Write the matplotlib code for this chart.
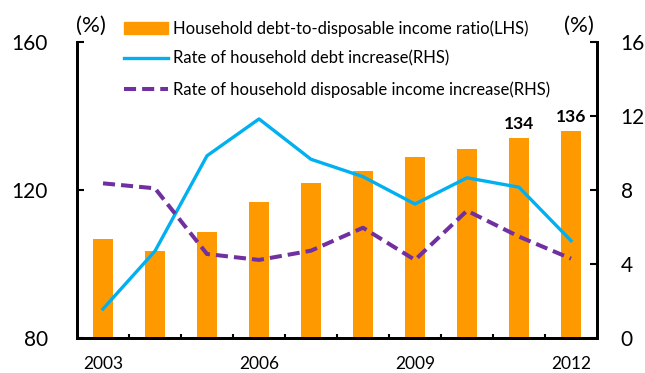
import numpy as np
import matplotlib.pyplot as plt
from matplotlib.patches import Patch
from matplotlib.lines import Line2D

plt.rcParams['font.family'] = ['Lato', 'DejaVu Sans']

# 연도별 데이터
years = ['2003', '2004', '2005', '2006', '2007', '2008', '2009', '2010', '2011', '2012']
debt_ratio = [106.8, 103.5, 108.6, 116.7, 122.0, 125.1, 129.0, 131.1, 134.0, 136.0]
debt_growth = [1.57, 4.7, 9.85, 11.84, 9.66, 8.72, 7.24, 8.66, 8.15, 5.26]
income_growth = [8.36, 8.09, 4.54, 4.22, 4.72, 5.96, 4.22, 6.88, 5.48, 4.29]
shown_labels = {8: '134', 9: '136'}

label_ratio = 'Household debt-to-disposable income ratio(LHS)'
label_debt = 'Rate of household debt increase(RHS)'
label_income = 'Rate of household disposable income increase(RHS)'

orange = '#FF9900'
blue = '#00B0F0'
purple = '#7030A0'

x = np.arange(len(years))

fig = plt.figure(figsize=(6.45, 3.73), dpi=100)
ax = fig.add_axes([77 / 645, 35 / 373, 520 / 645, 296 / 373])

ax.bar(x, debt_ratio, width=0.4, color=orange, zorder=2)
for i, txt in shown_labels.items():
    ax.text(x[i], debt_ratio[i] + 1.6, txt, ha='center', va='bottom',
            fontsize=12.5, fontweight='bold')

ax.set_xlim(-0.5, len(years) - 0.5)
ax.set_ylim(80, 160)
ax.set_yticks([80, 120, 160])
ax.set_xticks([0, 3, 6, 9])
ax.set_xticklabels([years[i] for i in [0, 3, 6, 9]])
ax.set_xticks(np.arange(0.5, len(years) - 1, 1), minor=True)
ax.tick_params(axis='x', which='major', length=0, pad=13, labelsize=12.5)
ax.tick_params(axis='x', which='minor', direction='in', length=3, width=1.5)
ax.tick_params(axis='y', direction='in', length=5, width=1.5, pad=21, labelsize=15)
ax.spines['top'].set_visible(False)
for s in ['left', 'bottom', 'right']:
    ax.spines[s].set_linewidth(2)

ax2 = ax.twinx()
ax2.set_position(ax.get_position())
ax2.plot(x, debt_growth, color=blue, lw=2.4, zorder=3)
ax2.plot(x, income_growth, color=purple, lw=2.9, dashes=(3, 1.5), zorder=3)
ax2.set_ylim(0, 16)
ax2.set_yticks([0, 4, 8, 12, 16])
ax2.tick_params(axis='y', direction='in', length=5, width=1.5, pad=17, labelsize=15)
ax2.spines['top'].set_visible(False)
for s in ['left', 'bottom', 'right']:
    ax2.spines[s].set_linewidth(2)

fig.text(76 / 645, 1 - 26 / 373, '(%)', ha='left', va='center', fontsize=16)
fig.text(594 / 645, 1 - 26 / 373, '(%)', ha='right', va='center', fontsize=16)

handles = [Patch(color=orange),
           Line2D([], [], color=blue, lw=2.4),
           Line2D([], [], color=purple, lw=2.9, dashes=(3, 1.5))]
fig.legend(handles, [label_ratio, label_debt, label_income],
           loc='upper left', bbox_to_anchor=(124 / 645, 1 - 20 / 373),
           frameon=False, borderpad=0, borderaxespad=0, fontsize=12,
           handlelength=2.65, handletextpad=0.3, labelspacing=0.85)

fig.savefig('out.png', dpi=100)
